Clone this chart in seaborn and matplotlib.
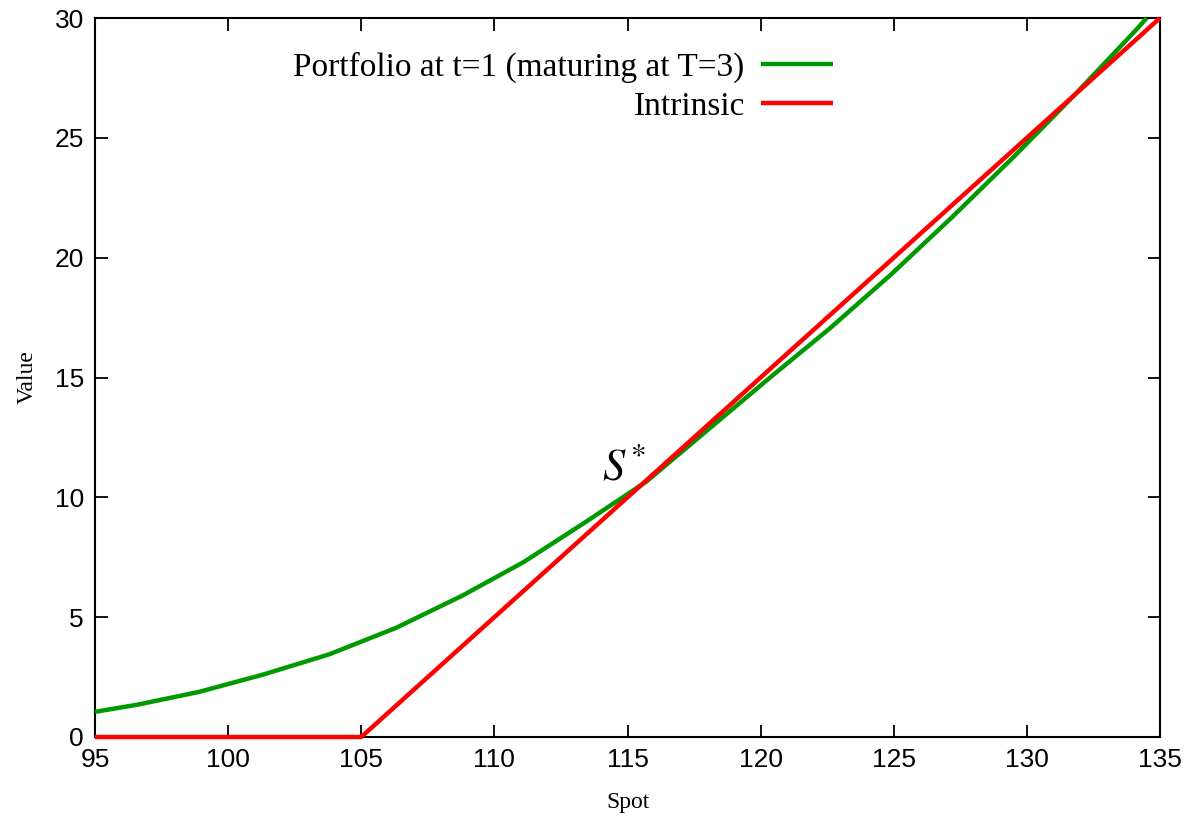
import numpy as np
import pandas as pd
import matplotlib
matplotlib.use("Agg")
import matplotlib.pyplot as plt
import seaborn as sns

# Data
portfolio_spot = [95.0, 96.6, 98.9, 101.3, 103.8, 106.3, 108.8, 111.1, 113.4, 115.7,
                  118.0, 120.3, 122.6, 124.9, 127.2, 129.5, 131.8, 134.1, 134.5]
portfolio_value = [1.05, 1.35, 1.88, 2.6, 3.45, 4.55, 5.9, 7.3, 8.95, 10.65,
                   12.8, 14.95, 17.05, 19.3, 21.7, 24.2, 26.8, 29.5, 30.0]
intrinsic_spot = [95.0, 105.0, 135.0]
intrinsic_value = [0.0, 0.0, 30.0]

label_portfolio = "Portfolio at t=1 (maturing at T=3)"
label_intrinsic = "Intrinsic"
x_ticks = [95, 100, 105, 110, 115, 120, 125, 130, 135]
y_ticks = [0, 5, 10, 15, 20, 25, 30]

df = pd.concat([
    pd.DataFrame({"Spot": portfolio_spot, "Value": portfolio_value, "series": label_portfolio}),
    pd.DataFrame({"Spot": intrinsic_spot, "Value": intrinsic_value, "series": label_intrinsic}),
], ignore_index=True)

sns.set_style("ticks")
plt.rcParams["mathtext.fontset"] = "stix"
plt.rcParams["text.color"] = "black"
plt.rcParams["axes.labelcolor"] = "black"
plt.rcParams["xtick.color"] = "black"
plt.rcParams["ytick.color"] = "black"

fig = plt.figure(figsize=(11.92, 8.18), dpi=100)
ax = fig.add_axes([95 / 1192, 1 - 737 / 818, (1160 - 95) / 1192, (737 - 18) / 818])

sns.lineplot(data=df, x="Spot", y="Value", hue="series",
             hue_order=[label_portfolio, label_intrinsic],
             palette={label_portfolio: "#009900", label_intrinsic: "#ff0000"},
             estimator=None, sort=False, linewidth=3.2, ax=ax)
for line in ax.get_lines():
    line.set_clip_on(False)
    line.set_solid_capstyle("butt")
    line.set_zorder(3)

ax.set_xlim(95, 135)
ax.set_ylim(0, 30)
ax.set_xticks(x_ticks)
ax.set_yticks(y_ticks)
ax.tick_params(direction="in", length=9, width=1.3, top=True, right=True,
               labelsize=19, pad=8, colors="black")
for lab in ax.get_xticklabels() + ax.get_yticklabels():
    lab.set_family("Liberation Sans")
for sp in ax.spines.values():
    sp.set_visible(True)
    sp.set_linewidth(1.5)
    sp.set_color("black")
    sp.set_zorder(2)

ax.set_xlabel("Spot", family="Liberation Serif", fontsize=17, labelpad=14)
ax.set_ylabel("Value", family="Liberation Serif", fontsize=17, labelpad=12)

ax.text(114.85, 10.75, r"$S^{\!*}$", fontsize=32, ha="center", va="baseline")

leg = ax.legend(loc="upper right", bbox_to_anchor=(833 / 1192, 1 - 52 / 818),
                bbox_transform=fig.transFigure, frameon=False, markerfirst=False,
                borderpad=0, borderaxespad=0, handlelength=2.15, handletextpad=0.5,
                labelspacing=0.25, prop={"family": "Liberation Serif", "size": 24})
for line in leg.get_lines():
    line.set_linewidth(3.2)

fig.savefig("out.png", dpi=100)
